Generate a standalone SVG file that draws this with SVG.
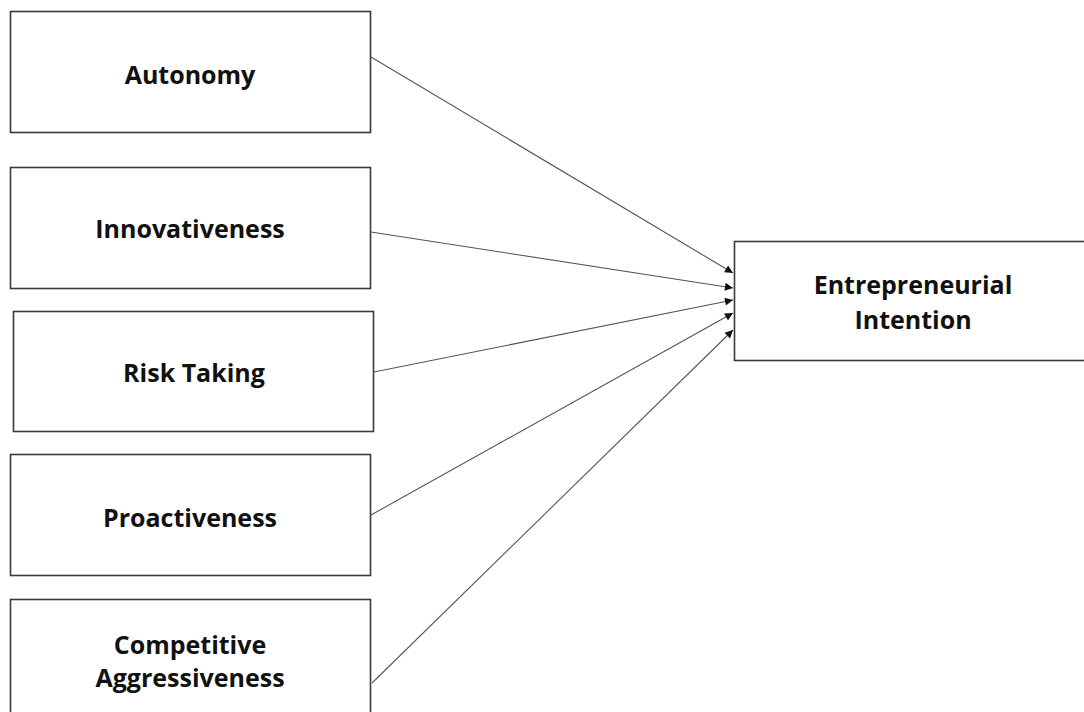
<svg xmlns="http://www.w3.org/2000/svg" width="1084" height="712" viewBox="0 0 1084 712">
<style>
.box{fill:#fff;stroke:#3a3a3a;stroke-width:1.6}
.lbl{font-family:"Open Sans","Noto Sans",sans-serif;font-weight:bold;font-size:25px;fill:#111;text-anchor:middle}
.edge{stroke:#555;stroke-width:1.1;fill:none;marker-end:url(#ah)}
</style>
<defs>
<marker id="ah" viewBox="0 0 10 10" refX="10" refY="5" markerWidth="11" markerHeight="8" markerUnits="userSpaceOnUse" orient="auto">
<path d="M0,0 L10,5 L0,10 z" fill="#111"/>
</marker>
</defs>
<rect width="1084" height="712" fill="#fff"/>
<g id="autonomy"><rect class="box" x="10.5" y="11.5" width="360" height="121"/><text class="lbl" x="190" y="84">Autonomy</text></g>
<g id="innovativeness"><rect class="box" x="10.5" y="167.5" width="360" height="121"/><text class="lbl" x="190" y="238">Innovativeness</text></g>
<g id="risk-taking"><rect class="box" x="13.5" y="311.5" width="360" height="120"/><text class="lbl" x="194" y="382">Risk Taking</text></g>
<g id="proactiveness"><rect class="box" x="10.5" y="454.5" width="360" height="121"/><text class="lbl" x="190" y="527">Proactiveness</text></g>
<g id="competitive-aggressiveness"><rect class="box" x="10.5" y="599.5" width="360" height="121"/><text class="lbl" x="190" y="654">Competitive</text><text class="lbl" x="190" y="687">Aggressiveness</text></g>
<g id="entrepreneurial-intention"><rect class="box" x="734.5" y="241.5" width="360" height="119"/><text class="lbl" x="913" y="294">Entrepreneurial</text><text class="lbl" x="913" y="329">Intention</text></g>
<g id="connectors">
<line class="edge" x1="371" y1="57" x2="733" y2="273"/>
<line class="edge" x1="371" y1="232" x2="733" y2="288"/>
<line class="edge" x1="374" y1="372" x2="733" y2="300"/>
<line class="edge" x1="371" y1="515" x2="733" y2="313"/>
<line class="edge" x1="372" y1="683" x2="733" y2="330"/>
</g>
</svg>
